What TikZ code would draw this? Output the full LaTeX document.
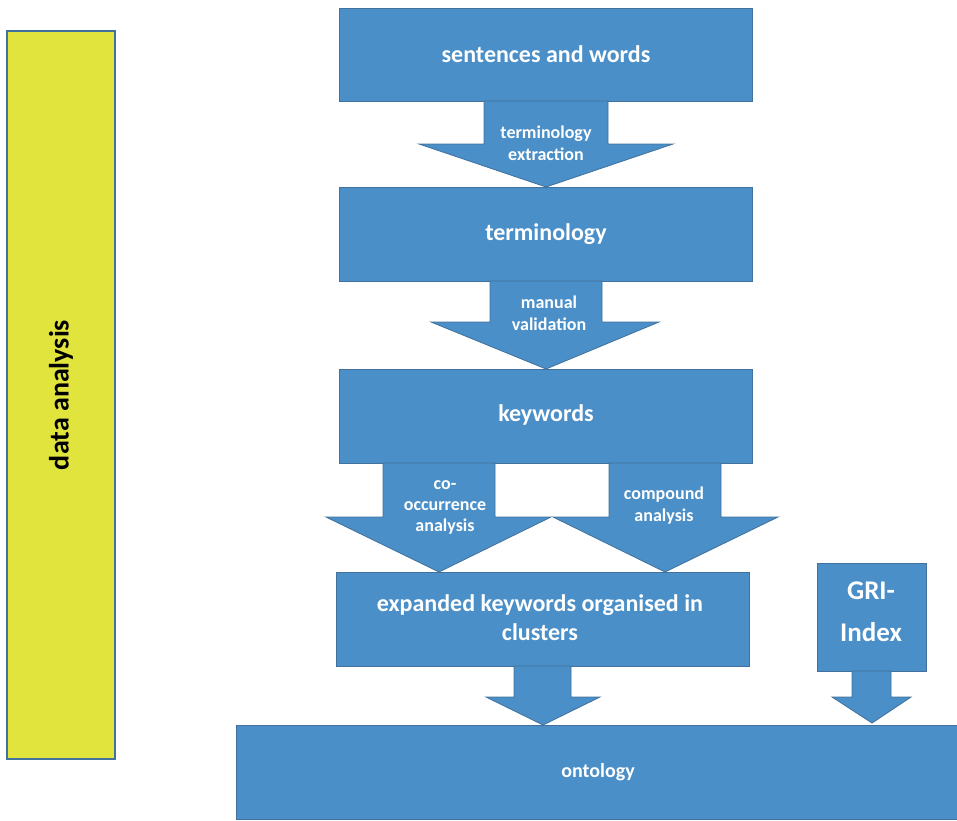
\documentclass[tikz,border=0pt]{standalone}
\usepackage{fontspec}
\setmainfont{Carlito}
\begin{document}
\begin{tikzpicture}[x=1pt,y=-1pt,
  blk/.style={fill=boxblue,draw=edgeblue,line width=0.8pt},
  lbl/.style 2 args={text=white,font=\bfseries\fontsize{#1}{#2}\selectfont,align=center}]
\definecolor{boxblue}{HTML}{4A8FC8}
\definecolor{edgeblue}{HTML}{41719C}
\definecolor{yel}{HTML}{E2E43E}
\useasboundingbox (0,0) rectangle (957,820);
% side bar
\draw[fill=yel,draw=edgeblue,line width=1.2pt] (7,31) rectangle (115,759);
\node[rotate=90,font=\bfseries\fontsize{28}{32}\selectfont] (da) at (61,395) {data analysis};
% main boxes
\draw[blk] (339,8) rectangle (752,101);
\node[lbl={24}{28}] (sw) at (546,54) {sentences and words};
\draw[blk] (484,101) -- (608,101) -- (608,144) -- (673,144) -- (546,187) -- (419,144) -- (484,144) -- cycle;
\node[lbl={18}{22}] (te) at (546,143) {terminology\\extraction};
\draw[blk] (339,187) rectangle (752,281);
\node[lbl={24}{28}] (term) at (546,234) {terminology};
\draw[blk] (490,281) -- (602,281) -- (602,322) -- (659,322) -- (546,369) -- (431,322) -- (490,322) -- cycle;
\node[lbl={18}{22}] (mv) at (549,313) {manual\\validation};
\draw[blk] (339,369) rectangle (752,463);
\node[lbl={24}{28}] (kw) at (546,415) {keywords};
\draw[blk] (383,463) -- (495,463) -- (495,517) -- (551,517) -- (439,572) -- (326,517) -- (383,517) -- cycle;
\draw[blk] (609,463) -- (721,463) -- (721,517) -- (778,517) -- (665,572) -- (553,517) -- (609,517) -- cycle;
\node[lbl={18}{21}] (co) at (445,507) {co-\\occurrence\\analysis};
\node[lbl={18}{22}] (cp) at (664,506) {compound\\analysis};
\draw[blk] (336,572) rectangle (749,666);
\node[lbl={24}{29}] (ex) at (540,618) {expanded keywords organised in\\clusters};
\draw[blk] (817,563) rectangle (926,671);
\node[lbl={27}{42}] (gri) at (871,612) {GRI-\\Index};
\draw[blk] (514,666) -- (571,666) -- (571,697) -- (600,697) -- (543,725) -- (486,697) -- (514,697) -- cycle;
\draw[blk] (852,671) -- (891,671) -- (891,697) -- (911,697) -- (872,723) -- (832,697) -- (852,697) -- cycle;
\draw[blk] (236,725) rectangle (957,819);
\node[lbl={20}{24}] (on) at (598,772) {ontology};
\end{tikzpicture}
\end{document}
